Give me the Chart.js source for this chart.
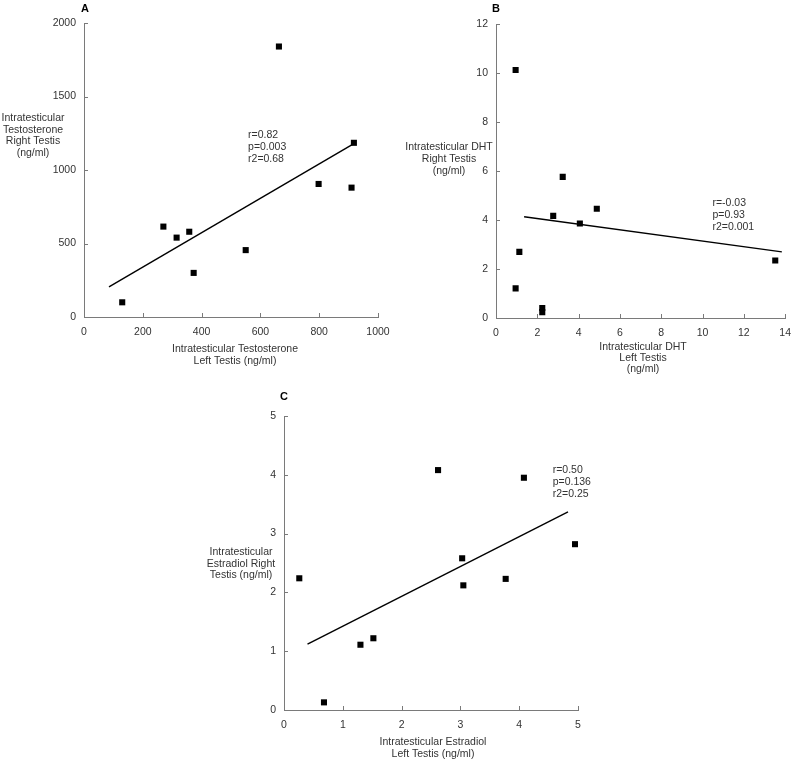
<!DOCTYPE html>
<html>
<head>
<meta charset="utf-8">
<script src="https://cdn.jsdelivr.net/npm/chart.js@4.4.0/dist/chart.umd.min.js"></script>
<style>
  body { margin: 0; background: #fff; }
  #wrap { position: relative; width: 800px; height: 764px; }
  canvas { position: absolute; }
</style>
</head>
<body>
<div id="wrap">
  <canvas id="chartA" width="400" height="380" style="left:0;top:0"></canvas>
  <canvas id="chartB" width="400" height="380" style="left:400px;top:0"></canvas>
  <canvas id="chartC" width="420" height="384" style="left:180px;top:380px"></canvas>
</div>
<script>
// --- panel A : testosterone ---
const testoLeft  = [130, 270, 315, 358, 373, 550, 663, 798, 910, 918];
const testoRight = [100, 615, 540, 580, 300, 455, 1840, 905, 880, 1185];
const testoFitX  = [85, 918];
const testoFitY  = [205, 1180];
const testoStats = ['r=0.82', 'p=0.003', 'r2=0.68'];
const testoTicksX = [0, 200, 400, 600, 800, 1000];
const testoTicksY = [0, 500, 1000, 1500, 2000];

// --- panel B : DHT ---
const dhtLeft  = [0.95, 0.95, 1.13, 2.24, 2.24, 2.77, 3.23, 4.06, 4.88, 13.52];
const dhtRight = [10.12, 1.21, 2.70, 0.41, 0.24, 4.17, 5.76, 3.86, 4.46, 2.35];
const dhtFitX  = [1.36, 13.84];
const dhtFitY  = [4.13, 2.70];
const dhtStats = ['r=-0.03', 'p=0.93', 'r2=0.001'];
const dhtTicksX = [0, 2, 4, 6, 8, 10, 12, 14];
const dhtTicksY = [0, 2, 4, 6, 8, 10, 12];

// --- panel C : estradiol ---
const estraLeft  = [0.26, 0.68, 1.30, 1.52, 2.62, 3.03, 3.05, 3.77, 4.08, 4.95];
const estraRight = [2.24, 0.13, 1.11, 1.22, 4.08, 2.58, 2.12, 2.23, 3.95, 2.82];
const estraFitX  = [0.40, 4.83];
const estraFitY  = [1.12, 3.37];
const estraStats = ['r=0.50', 'p=0.136', 'r2=0.25'];
const estraTicksX = [0, 1, 2, 3, 4, 5];
const estraTicksY = [0, 1, 2, 3, 4, 5];

const FONT = "'Liberation Sans', Arial, Helvetica, sans-serif";
const TEXT = '#333';
const AXIS = '#7a7a7a';

// ticks point into the plot in the original
const insideTicks = {
  id: 'insideTicks',
  afterDraw(chart) {
    const { ctx, chartArea, scales } = chart;
    ctx.save();
    ctx.strokeStyle = AXIS;
    ctx.lineWidth = 1;
    ctx.beginPath();
    scales.x.ticks.forEach(t => {
      const px = Math.round(scales.x.getPixelForValue(t.value)) + 0.5;
      ctx.moveTo(px, chartArea.bottom);
      ctx.lineTo(px, chartArea.bottom - 4);
    });
    scales.y.ticks.forEach(t => {
      const py = Math.round(scales.y.getPixelForValue(t.value)) + 0.5;
      ctx.moveTo(chartArea.left, py);
      ctx.lineTo(chartArea.left + 4, py);
    });
    ctx.stroke();
    ctx.restore();
  }
};

function drawLines(ctx, lines, x, y, gap) {
  lines.forEach((l, i) => ctx.fillText(l, x, y + i * gap));
}

// panel letter, horizontal axis titles and r/p text
const panelText = {
  id: 'panelText',
  afterDraw(chart, args, o) {
    const { ctx, scales } = chart;
    ctx.save();
    ctx.textBaseline = 'middle';
    ctx.fillStyle = '#000';
    ctx.font = 'bold 11px ' + FONT;
    ctx.textAlign = 'center';
    ctx.fillText(o.letter, o.letterPos[0], o.letterPos[1]);

    ctx.font = '10.5px ' + FONT;
    ctx.fillStyle = TEXT;
    drawLines(ctx, o.yTitle, o.yTitlePos[0], o.yTitlePos[1], o.yTitlePos[2]);
    drawLines(ctx, o.xTitle, o.xTitlePos[0], o.xTitlePos[1], o.xTitlePos[2]);

    ctx.textAlign = 'left';
    const sx = scales.x.getPixelForValue(o.statsAt[0]);
    const sy = scales.y.getPixelForValue(o.statsAt[1]);
    drawLines(ctx, o.stats, sx, sy, 12);
    ctx.restore();
  }
};

function makePanel(id, p) {
  const pts = p.xs.map((x, i) => ({ x: x, y: p.ys[i] }));
  const fit = p.fitX.map((x, i) => ({ x: x, y: p.fitY[i] }));
  const axis = (ticks, fitFn) => ({
    type: 'linear',
    min: ticks[0],
    max: ticks[ticks.length - 1],
    afterFit: fitFn,
    afterBuildTicks: s => { s.ticks = ticks.map(v => ({ value: v })); },
    border: { display: true, color: AXIS, width: 1 },
    grid: { display: true, drawOnChartArea: false, drawTicks: false },
    ticks: {
      color: TEXT,
      font: { family: FONT, size: 10.5 },
      callback: v => String(v)
    }
  });
  const xAxis = axis(p.ticksX, s => { s.height = p.xH; });
  xAxis.ticks.padding = 9;
  xAxis.ticks.maxRotation = 0;
  const yAxis = axis(p.ticksY, s => { s.width = p.yW; });
  yAxis.ticks.padding = 8;

  return new Chart(document.getElementById(id), {
    type: 'scatter',
    data: {
      datasets: [
        {
          data: pts,
          pointStyle: 'rect',
          pointRadius: 4.3,
          backgroundColor: '#000',
          borderWidth: 0
        },
        {
          type: 'line',
          data: fit,
          borderColor: '#000',
          borderWidth: 1.4,
          pointRadius: 0,
          fill: false
        }
      ]
    },
    options: {
      responsive: false,
      devicePixelRatio: 1,
      animation: false,
      events: [],
      layout: { padding: p.pad },
      scales: { x: xAxis, y: yAxis },
      plugins: {
        legend: { display: false },
        tooltip: { enabled: false },
        panelText: p.text
      }
    },
    plugins: [insideTicks, panelText]
  });
}

makePanel('chartA', {
  xs: testoLeft, ys: testoRight, fitX: testoFitX, fitY: testoFitY,
  ticksX: testoTicksX, ticksY: testoTicksY,
  yW: 84, xH: 63, pad: { left: 0, top: 23, right: 22, bottom: 0 },
  text: {
    letter: 'A', letterPos: [85, 9],
    yTitle: ['Intratesticular', 'Testosterone', 'Right Testis', '(ng/ml)'], yTitlePos: [33, 118, 11.8],
    xTitle: ['Intratesticular Testosterone', 'Left Testis (ng/ml)'], xTitlePos: [235, 349, 11.7],
    stats: testoStats, statsAt: [558, 1238]
  }
});

makePanel('chartB', {
  xs: dhtLeft, ys: dhtRight, fitX: dhtFitX, fitY: dhtFitY,
  ticksX: dhtTicksX, ticksY: dhtTicksY,
  yW: 96, xH: 62, pad: { left: 0, top: 24, right: 10, bottom: 0 },
  text: {
    letter: 'B', letterPos: [96, 9],
    yTitle: ['Intratesticular DHT', 'Right Testis', '(ng/ml)'], yTitlePos: [49, 147, 12],
    xTitle: ['Intratesticular DHT', 'Left Testis', '(ng/ml)'], xTitlePos: [243, 347, 11.3],
    stats: dhtStats, statsAt: [10.48, 4.70]
  }
});

makePanel('chartC', {
  xs: estraLeft, ys: estraRight, fitX: estraFitX, fitY: estraFitY,
  ticksX: estraTicksX, ticksY: estraTicksY,
  yW: 104, xH: 54, pad: { left: 0, top: 36, right: 22, bottom: 0 },
  text: {
    letter: 'C', letterPos: [104, 17],
    yTitle: ['Intratesticular', 'Estradiol Right', 'Testis (ng/ml)'], yTitlePos: [61, 172, 11.7],
    xTitle: ['Intratesticular Estradiol', 'Left Testis (ng/ml)'], xTitlePos: [253, 362, 12],
    stats: estraStats, statsAt: [4.57, 4.08]
  }
});
</script>
</body>
</html>
